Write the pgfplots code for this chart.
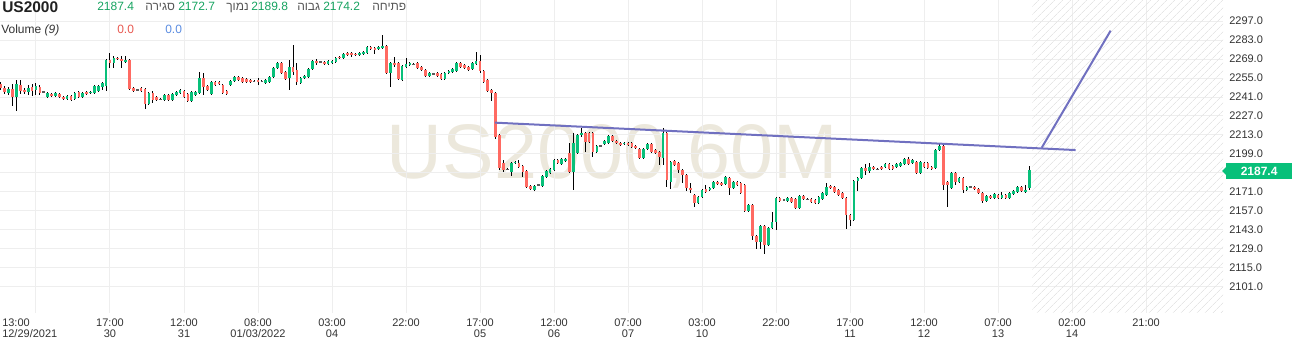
\documentclass[border=0pt]{standalone}
\usepackage{fontspec}
\setmainfont{Liberation Sans}
\newfontfamily\hebfont[Script=Hebrew]{Liberation Sans}
\TeXXeTstate=1
\usepackage{pgfplots}
\pgfplotsset{compat=1.18}
\usepackage{pgfplotstable}
\usetikzlibrary{patterns.meta}
\definecolor{upc}{RGB}{8,192,122}
\definecolor{dnc}{RGB}{255,106,98}
\definecolor{dojic}{RGB}{90,90,90}
\definecolor{trendc}{RGB}{112,112,192}
\definecolor{gridc}{RGB}{238,238,238}
\definecolor{labc}{RGB}{51,51,51}
\definecolor{hdrgreen}{RGB}{22,163,96}
\definecolor{hdrgrey}{RGB}{85,85,85}
\definecolor{volred}{RGB}{232,88,80}
\definecolor{volblue}{RGB}{90,140,225}
\definecolor{wmc}{RGB}{236,232,220}
\definecolor{hatchc}{RGB}{230,230,230}

\pgfplotstableread{
k o h l c
-9 2250.6 2252.1 2246.2 2247.6
-8 2247.6 2249.1 2243.2 2244.7
-7 2244.0 2248.4 2242.5 2246.9
-6 2246.9 2250.6 2234.4 2241.0
-5 2241.0 2253.5 2230.7 2250.6
-4 2249.9 2253.5 2243.2 2245.4
-3 2246.2 2247.6 2243.2 2244.7
-2 2244.7 2249.9 2242.5 2247.6
-1 2248.4 2250.6 2241.7 2245.4
0 2246.2 2251.3 2242.5 2249.1
1 2248.4 2249.9 2242.5 2244.0
2 2244.7 2245.4 2244.0 2244.7
3 2241.0 2244.7 2240.3 2244.0
4 2243.2 2244.0 2241.0 2241.7
5 2241.7 2244.7 2241.0 2244.0
6 2243.2 2244.0 2240.3 2241.0
7 2241.0 2241.7 2238.8 2239.5
8 2239.5 2242.5 2238.8 2241.7
9 2241.7 2242.5 2238.1 2238.8
10 2239.5 2244.7 2238.8 2244.0
11 2244.7 2245.4 2240.3 2241.0
12 2241.0 2244.7 2240.3 2244.0
13 2244.7 2245.4 2242.5 2243.2
14 2244.0 2245.4 2243.2 2244.7
15 2244.0 2249.9 2243.2 2249.1
16 2245.4 2249.9 2244.7 2249.1
17 2248.4 2252.1 2246.2 2251.3
18 2249.1 2269.0 2245.4 2268.3
19 2268.3 2273.4 2262.4 2266.1
20 2266.1 2271.2 2262.4 2269.8
21 2269.8 2270.5 2268.3 2269.0
22 2269.0 2271.2 2262.4 2267.5
23 2266.8 2271.2 2266.1 2268.3
24 2268.3 2269.0 2246.2 2246.9
25 2247.6 2248.4 2244.7 2245.4
26 2246.2 2246.9 2245.4 2246.2
27 2247.6 2248.4 2244.7 2245.4
28 2246.9 2247.6 2232.2 2235.9
29 2235.9 2244.7 2235.1 2244.0
30 2244.0 2245.4 2236.6 2238.8
31 2241.0 2241.7 2238.1 2238.8
32 2239.5 2240.3 2238.8 2239.5
33 2238.8 2243.2 2238.1 2242.5
34 2242.5 2243.2 2238.1 2238.8
35 2238.8 2244.0 2238.1 2243.2
36 2242.5 2245.4 2241.7 2244.7
37 2244.0 2246.9 2243.2 2246.2
38 2245.4 2246.2 2240.3 2241.0
39 2243.2 2244.0 2237.3 2238.1
40 2238.1 2245.4 2237.3 2244.7
41 2242.5 2245.4 2241.7 2244.7
42 2244.0 2259.4 2243.2 2255.0
43 2255.0 2258.7 2242.5 2248.4
44 2249.1 2249.9 2245.4 2246.2
45 2243.2 2252.8 2242.5 2252.1
46 2252.1 2252.8 2249.1 2249.9
47 2252.1 2252.8 2249.9 2250.6
48 2249.9 2250.6 2243.2 2244.0
49 2245.4 2246.2 2242.5 2243.2
50 2249.9 2253.5 2249.1 2252.8
51 2252.8 2256.5 2252.1 2255.8
52 2255.8 2256.5 2252.8 2253.5
53 2255.0 2255.8 2251.3 2252.1
54 2254.3 2255.0 2251.3 2252.1
55 2253.5 2254.3 2251.3 2252.1
56 2252.8 2253.5 2252.1 2252.8
57 2253.5 2255.0 2249.9 2252.1
58 2252.8 2253.5 2252.1 2252.8
59 2251.3 2254.3 2250.6 2253.5
60 2252.1 2256.5 2251.3 2255.8
61 2255.8 2263.1 2255.0 2262.4
62 2262.4 2266.8 2261.6 2266.1
63 2266.1 2266.8 2258.0 2258.7
64 2259.4 2260.2 2253.5 2254.3
65 2255.0 2268.3 2246.2 2263.1
66 2263.1 2279.3 2257.2 2259.4
67 2260.9 2266.1 2249.9 2252.1
68 2251.3 2255.8 2250.6 2255.0
69 2255.0 2257.2 2254.3 2256.5
70 2255.8 2262.4 2255.0 2261.6
71 2261.6 2268.3 2260.9 2267.5
72 2267.5 2269.0 2264.6 2266.1
73 2266.8 2267.5 2266.1 2266.8
74 2266.8 2267.5 2264.6 2265.3
75 2265.3 2268.3 2264.6 2267.5
76 2266.1 2268.3 2265.3 2267.5
77 2266.8 2270.5 2266.1 2269.8
78 2270.5 2271.2 2269.0 2269.8
79 2269.8 2273.4 2269.0 2272.7
80 2273.4 2274.2 2271.2 2272.0
81 2273.4 2274.2 2270.5 2272.0
82 2272.7 2273.4 2271.2 2272.0
83 2272.0 2274.2 2271.2 2273.4
84 2272.7 2274.9 2272.0 2274.2
85 2273.4 2278.6 2272.7 2277.9
86 2277.9 2278.6 2275.6 2276.4
87 2277.1 2277.9 2272.7 2275.6
88 2276.4 2278.6 2275.6 2277.9
89 2277.1 2286.7 2276.4 2278.6
90 2278.6 2279.3 2258.0 2258.7
91 2258.7 2266.8 2248.4 2266.1
92 2266.1 2270.5 2263.1 2264.6
93 2266.1 2266.8 2253.5 2254.3
94 2253.5 2264.6 2252.8 2263.9
95 2263.1 2269.8 2262.4 2265.3
96 2264.6 2266.8 2263.9 2266.1
97 2265.3 2266.1 2264.6 2265.3
98 2266.1 2266.8 2261.6 2262.4
99 2263.1 2263.9 2260.2 2260.9
100 2260.9 2261.6 2255.8 2256.5
101 2256.5 2259.4 2255.8 2258.7
102 2258.0 2258.7 2257.2 2258.0
103 2258.7 2259.4 2255.8 2256.5
104 2258.0 2258.7 2253.5 2254.3
105 2254.3 2259.4 2253.5 2258.7
106 2258.7 2260.9 2258.0 2260.2
107 2259.4 2262.4 2258.7 2261.6
108 2260.2 2266.8 2259.4 2266.1
109 2266.1 2266.8 2262.4 2263.1
110 2264.6 2265.3 2261.6 2262.4
111 2263.1 2263.9 2260.2 2260.9
112 2261.6 2266.8 2260.9 2266.1
113 2265.3 2274.2 2264.6 2267.5
114 2267.5 2272.0 2258.7 2260.2
115 2260.2 2260.9 2251.3 2252.1
116 2253.5 2254.3 2244.7 2245.4
117 2246.2 2246.9 2238.1 2244.0
118 2244.0 2244.7 2210.1 2211.5
119 2213.0 2213.7 2187.2 2188.7
120 2192.4 2194.6 2185.7 2187.2
121 2187.9 2188.7 2187.2 2187.9
122 2185.7 2193.1 2182.8 2192.4
123 2192.4 2193.8 2191.6 2193.1
124 2192.4 2194.6 2188.7 2189.4
125 2190.2 2190.9 2182.1 2185.7
126 2186.5 2187.2 2173.9 2174.7
127 2175.4 2176.2 2172.5 2173.2
128 2172.5 2176.2 2171.7 2175.4
129 2176.2 2176.9 2175.4 2176.2
130 2175.4 2183.5 2174.7 2182.8
131 2182.1 2187.2 2181.3 2186.5
132 2185.0 2188.7 2184.3 2187.9
133 2187.2 2195.3 2186.5 2194.6
134 2194.6 2195.3 2191.6 2192.4
135 2191.6 2196.1 2190.9 2195.3
136 2193.8 2196.1 2193.1 2195.3
137 2199.7 2207.1 2185.0 2185.7
138 2185.7 2214.5 2172.5 2207.1
139 2199.7 2213.7 2199.0 2213.0
140 2213.0 2218.2 2211.5 2214.5
141 2214.5 2215.2 2200.5 2207.8
142 2214.5 2215.2 2207.1 2207.8
143 2214.5 2215.2 2196.8 2200.5
144 2200.5 2205.6 2199.7 2204.9
145 2204.9 2205.6 2204.2 2204.9
146 2206.4 2209.3 2205.6 2208.6
147 2207.1 2213.0 2206.4 2212.3
148 2212.3 2213.0 2207.8 2208.6
149 2208.6 2209.3 2206.4 2207.1
150 2207.1 2207.8 2204.9 2205.6
151 2206.4 2207.8 2205.6 2207.1
152 2207.1 2207.8 2204.9 2205.6
153 2207.1 2207.8 2203.4 2204.2
154 2204.9 2205.6 2202.7 2203.4
155 2202.7 2203.4 2195.3 2196.1
156 2196.1 2203.4 2195.3 2202.7
157 2202.7 2207.1 2201.9 2206.4
158 2206.4 2207.1 2199.7 2200.5
159 2201.9 2202.7 2199.0 2199.7
160 2200.5 2201.2 2190.9 2196.8
161 2196.1 2218.2 2190.9 2214.5
162 2214.5 2215.2 2174.7 2179.8
163 2178.4 2193.8 2173.2 2193.1
164 2193.8 2194.6 2190.2 2190.9
165 2192.4 2193.1 2185.0 2187.2
166 2187.2 2187.9 2177.6 2183.5
167 2183.5 2184.3 2171.7 2173.9
168 2173.9 2177.6 2170.3 2172.5
169 2168.8 2169.5 2159.9 2162.9
170 2162.9 2168.0 2162.2 2167.3
171 2167.3 2173.2 2166.6 2172.5
172 2173.2 2176.2 2170.3 2171.0
173 2172.5 2174.7 2171.7 2173.9
174 2173.9 2179.1 2173.2 2178.4
175 2178.4 2179.1 2176.2 2176.9
176 2177.6 2178.4 2175.4 2176.2
177 2176.9 2182.8 2176.2 2182.1
178 2181.3 2182.1 2168.8 2173.9
179 2173.9 2179.1 2173.2 2178.4
180 2178.4 2179.1 2175.4 2176.2
181 2177.6 2178.4 2169.5 2170.3
182 2176.2 2176.9 2156.3 2157.0
183 2157.0 2162.2 2156.3 2161.4
184 2161.4 2162.2 2135.6 2138.6
185 2138.6 2139.3 2129.0 2134.1
186 2134.1 2146.7 2129.0 2145.9
187 2145.9 2146.7 2125.3 2131.9
188 2131.9 2145.2 2131.2 2144.5
189 2144.5 2156.3 2143.7 2148.9
190 2148.9 2167.3 2143.0 2166.6
191 2166.6 2167.3 2163.6 2164.4
192 2165.1 2165.8 2164.4 2165.1
193 2164.4 2167.3 2163.6 2166.6
194 2166.6 2167.3 2162.9 2163.6
195 2165.8 2166.6 2158.5 2159.2
196 2159.2 2168.8 2158.5 2168.0
197 2168.0 2168.8 2165.1 2165.8
198 2165.8 2166.6 2165.1 2165.8
199 2165.8 2166.6 2162.9 2163.6
200 2165.1 2165.8 2162.2 2162.9
201 2162.9 2168.0 2162.2 2167.3
202 2165.8 2171.0 2165.1 2170.3
203 2168.8 2177.6 2168.0 2174.7
204 2175.4 2176.2 2173.2 2173.9
205 2174.7 2175.4 2170.3 2171.0
206 2172.5 2173.2 2168.0 2168.8
207 2170.3 2171.0 2165.8 2166.6
208 2166.6 2167.3 2143.7 2154.0
209 2154.0 2154.8 2145.9 2150.4
210 2150.4 2179.8 2149.6 2179.1
211 2179.1 2182.1 2171.7 2181.3
212 2181.3 2189.4 2180.6 2188.7
213 2188.7 2191.6 2183.5 2186.5
214 2186.5 2192.4 2185.0 2189.4
215 2189.4 2190.2 2187.2 2187.9
216 2187.9 2188.7 2187.2 2187.9
217 2189.4 2190.2 2187.2 2187.9
218 2189.4 2192.4 2188.7 2191.6
219 2191.6 2192.4 2187.2 2187.9
220 2190.2 2190.9 2187.2 2187.9
221 2189.4 2192.4 2188.7 2191.6
222 2190.2 2193.1 2189.4 2192.4
223 2191.6 2196.1 2190.9 2195.3
224 2195.3 2196.8 2190.9 2191.6
225 2192.4 2195.3 2191.6 2194.6
226 2193.1 2193.8 2184.3 2185.0
227 2185.0 2193.8 2184.3 2193.1
228 2192.4 2193.1 2188.7 2189.4
229 2192.4 2193.1 2187.9 2188.7
230 2189.4 2190.2 2187.2 2187.9
231 2188.7 2202.7 2187.9 2201.9
232 2201.9 2206.4 2201.2 2204.9
233 2204.9 2205.6 2172.5 2176.2
234 2178.4 2179.1 2159.9 2176.2
235 2173.9 2185.7 2173.2 2185.0
236 2185.0 2185.7 2176.2 2178.4
237 2178.4 2182.1 2177.6 2181.3
238 2181.3 2182.1 2170.3 2172.5
239 2172.5 2175.4 2171.7 2174.7
240 2174.7 2175.4 2173.9 2174.7
241 2174.7 2175.4 2172.5 2173.2
242 2173.2 2173.9 2169.5 2170.3
243 2170.3 2171.0 2162.9 2164.4
244 2164.4 2168.8 2163.6 2168.0
245 2168.0 2168.8 2165.8 2166.6
246 2166.6 2170.3 2165.8 2169.5
247 2168.8 2169.5 2165.8 2166.6
248 2166.6 2171.0 2165.8 2168.8
249 2168.8 2169.5 2165.8 2166.6
250 2166.6 2171.0 2165.8 2170.3
251 2169.5 2172.5 2168.8 2171.7
252 2171.0 2175.4 2170.3 2174.7
253 2174.7 2175.4 2171.0 2171.7
254 2171.0 2176.2 2170.3 2172.5
255 2174.2 2189.8 2172.7 2187.4
}\candles

\begin{document}
\begin{tikzpicture}[x=0.75pt,y=0.75pt]
\useasboundingbox (0,0) rectangle (1293,342);
% watermark
\node[anchor=base, text=wmc, font=\fontsize{58}{58}\selectfont, inner sep=0pt] at (612.5,163) {US2000,60M};
\begin{axis}[
  at={(0pt,21.75pt)}, anchor=south west,
  scale only axis, width=917.25pt, height=234.75pt,
  xmin=-9.24, xmax=304.75, ymin=2081.8, ymax=2312.5,
  axis line style={draw=none},
  major tick length=0pt,
  tick style={draw=none},
  grid=major,
  grid style={draw=gridc, line width=0.75pt},
  ytick={2101,2115,2129,2143,2157,2171,2199,2213,2227,2241,2255,2269,2283,2297},
  extra y ticks={2185},
  extra y tick labels={},
  extra y tick style={grid=major},
  yticklabel pos=right,
  scaled y ticks=false,
  yticklabel style={font=\fontsize{8.25}{10}\selectfont, text=labc, inner sep=0pt, anchor=west, xshift=4.5pt,
    /pgf/number format/fixed, /pgf/number format/fixed zerofill,
    /pgf/number format/precision=1, /pgf/number format/1000 sep={},
    /pgf/number format/assume math mode=true},
  xtick={19,38,57,76,95,114,133,152,171,190,209,228,247,266,285},
  xticklabels={{17:00\\30},{12:00\\31},{08:00\\01/03/2022},{03:00\\04},{22:00},{17:00\\05},{12:00\\06},{07:00\\07},{03:00\\10},{22:00},{17:00\\11},{12:00\\12},{07:00\\13},{02:00\\14},{21:00}},
  xticklabel style={align=center, font=\fontsize{8.25}{8.25}\selectfont, text=labc, inner sep=0pt, anchor=north, yshift=-3.8pt},
  extra x ticks={0},
  extra x tick labels={{13:00\\12/29/2021}},
  extra x tick style={grid=major, xticklabel style={align=left, anchor=north west, xshift=-25.5pt}},
]
% future hatched zone
\addplot[draw=none, pattern={Lines[angle=45,distance=4pt,line width=0.5pt]}, pattern color=hatchc]
  coordinates {(255.8,2081.8) (304.75,2081.8) (304.75,2312.5) (255.8,2312.5)} -- cycle;
% wicks
\addplot[draw=none, mark=none, error bars/.cd, y dir=both, y explicit, error mark=none,
  error bar style={draw=black, line width=0.75pt}]
  table[x=k, y expr={(\thisrow{h}+\thisrow{l})/2}, y error expr={(\thisrow{h}-\thisrow{l})/2}] {\candles};
% up bodies
\addplot[draw=none, mark=none, restrict expr to domain={\thisrow{c}-\thisrow{o}}{0.05:1000},
  error bars/.cd, y dir=both, y explicit, error mark=none,
  error bar style={draw=upc, line width=2pt}]
  table[x=k, y expr={(\thisrow{o}+\thisrow{c})/2}, y error expr={max(abs(\thisrow{c}-\thisrow{o})/2,0.37)}] {\candles};
% down bodies
\addplot[draw=none, mark=none, restrict expr to domain={\thisrow{c}-\thisrow{o}}{-1000:-0.05},
  error bars/.cd, y dir=both, y explicit, error mark=none,
  error bar style={draw=dnc, line width=2pt}]
  table[x=k, y expr={(\thisrow{o}+\thisrow{c})/2}, y error expr={max(abs(\thisrow{c}-\thisrow{o})/2,0.37)}] {\candles};
% doji
\addplot[draw=none, mark=none, restrict expr to domain={\thisrow{c}-\thisrow{o}}{-0.04:0.04},
  error bars/.cd, y dir=both, y explicit, error mark=none,
  error bar style={draw=dojic, line width=2pt}]
  table[x=k, y expr={(\thisrow{o}+\thisrow{c})/2}, y error expr={0.37}] {\candles};
% trend lines
\addplot[color=trendc, line width=1.5pt] coordinates {(117.8,2222.1) (266.9,2201.9)};
\addplot[color=trendc, line width=1.5pt] coordinates {(258.2,2203.6) (275.9,2289.9)};
\end{axis}
% header
\node[anchor=base west, inner sep=0pt, font=\fontsize{11.6}{12}\selectfont\bfseries, text=black!87] at (2,329.5) {US2000};
\begin{scope}[every node/.style={anchor=base west, inner sep=0pt, font=\fontsize{9}{10}\selectfont}]
\node[text=hdrgreen] at (97,331) {2187.4};
\node[text=hdrgrey] at (145,331) {\hebfont\beginR סגירה\endR};
\node[text=hdrgreen] at (178,331) {2172.7};
\node[text=hdrgrey] at (226,331) {\hebfont\beginR נמוך\endR};
\node[text=hdrgreen] at (251,331) {2189.8};
\node[text=hdrgrey] at (297,331) {\hebfont\beginR גבוה\endR};
\node[text=hdrgreen] at (323,331) {2174.2};
\node[text=hdrgrey] at (372,331) {\hebfont\beginR פתיחה\endR};
\node[text=labc] at (1,308) {Volume \textit{(9)}};
\node[text=volred] at (117,308) {0.0};
\node[text=volblue] at (165,308) {0.0};
\end{scope}
% last price label
\fill[upc] (1222,171) -- (1226,175) -- (1226,167) -- cycle;
\node[fill=upc, text=white, font=\fontsize{9}{10}\selectfont\bfseries, minimum width=50pt, minimum height=12pt, inner sep=0pt, anchor=west] at (1225.5,171) {2187.4};
\end{tikzpicture}
\end{document}
